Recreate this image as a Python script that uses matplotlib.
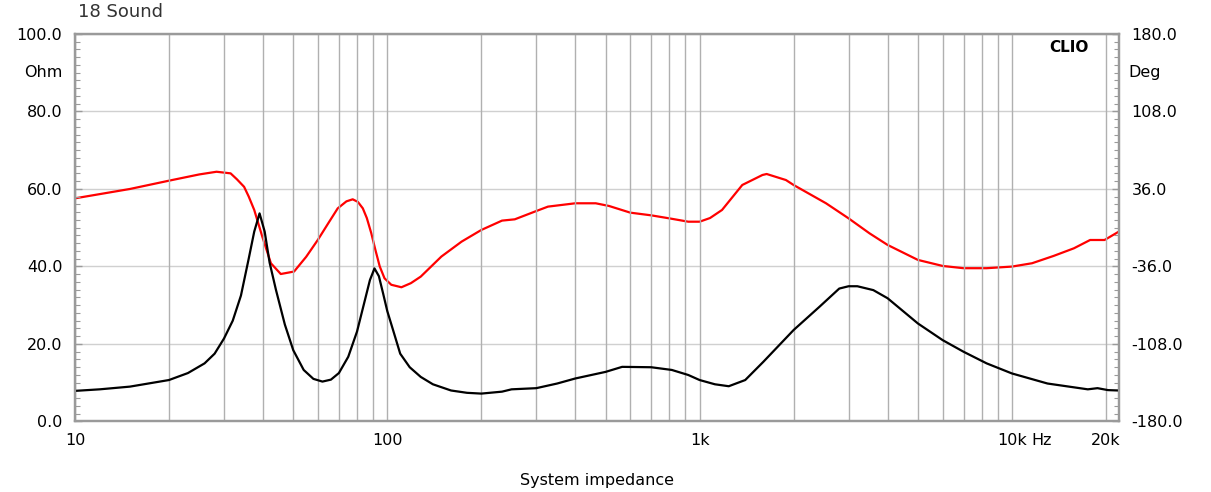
import matplotlib
matplotlib.use('Agg')
import matplotlib.pyplot as plt
from matplotlib.ticker import FixedLocator, MultipleLocator, NullFormatter, LogLocator
import numpy as np

plt.rcParams['font.family'] = ['DejaVu Sans']

# impedance magnitude (black, left axis)
zFreq = [10, 12, 15, 20, 23, 26, 28, 30, 32, 34, 36, 37.5, 39, 40.5, 42, 44, 47, 50, 54, 58,
         62, 66, 70, 75, 80, 84, 88, 91, 94, 97, 100, 104, 110, 118, 128, 140, 160, 180, 200,
         233, 250, 300, 350, 400, 500, 565, 700, 815, 920, 1000, 1120, 1240, 1400, 1600, 2000,
         2420, 2800, 3000, 3200, 3600, 4000, 5000, 6000, 7000, 8300, 10000, 13000, 17500,
         18800, 20300, 22000]
zOhm = [7.9, 8.3, 9.0, 10.7, 12.5, 15.0, 17.5, 21.4, 26.0, 32.5, 42.0, 49.0, 53.7, 49.0, 41.0,
        34.0, 25.0, 18.4, 13.3, 11.0, 10.3, 10.8, 12.5, 16.7, 23.2, 30.0, 36.5, 39.5, 37.5,
        33.0, 28.5, 24.0, 17.5, 14.0, 11.5, 9.6, 8.0, 7.4, 7.2, 7.7, 8.3, 8.6, 9.8, 11.1, 12.8,
        14.1, 14.0, 13.3, 12.0, 10.7, 9.6, 9.1, 10.7, 15.4, 23.6, 29.6, 34.3, 34.9, 34.9, 33.9,
        31.8, 25.3, 21.0, 18.0, 15.0, 12.4, 9.8, 8.3, 8.6, 8.1, 8.0]

# impedance phase (red, right axis)
pFreq = [10, 15, 20, 25, 28.4, 31.5, 33, 34.8, 36, 37.5, 39.8, 42.4, 45.6, 50.3, 55, 59.9, 65,
         69.4, 74, 77.5, 80.5, 83.5, 86, 88.9, 91.5, 94.6, 98, 103, 111, 119, 128, 149, 173,
         200, 233, 256, 300, 327, 400, 465, 513, 600, 700, 800, 920, 1000, 1080, 1180, 1370,
         1590, 1640, 1890, 2000, 2540, 3000, 3500, 4000, 5000, 6000, 7000, 8300, 10000, 11600,
         13600, 15800, 17800, 19800, 22000]
pDeg = [27.3, 36.0, 43.7, 49.5, 52.0, 50.5, 45.0, 38.0, 29.0, 16.5, -8.3, -33.0, -43.0, -40.7,
        -27.0, -11.4, 5.0, 18.0, 24.5, 26.4, 24.0, 18.0, 9.0, -5.2, -20.0, -36.0, -47.0, -53.0,
        -55.3, -51.5, -45.4, -26.8, -12.9, -2.1, 6.6, 7.8, 15.5, 19.6, 22.7, 22.7, 20.2, 14.0,
        11.5, 8.7, 5.6, 5.6, 9.0, 16.5, 39.7, 49.0, 49.9, 44.3, 39.7, 22.7, 8.7, -5.2, -16.0,
        -29.9, -35.5, -37.6, -37.6, -36.1, -33.0, -26.2, -19.1, -11.4, -11.4, -3.6]

ohmTicks = [0, 20, 40, 60, 80, 100]
degTicks = [-180, -108, -36, 36, 108, 180]
freqTicks = [10, 100, 1000, 10000, 20000]
freqLabels = ['10', '100', '1k', '10k', '20k']

frameColor = '#9a9a9a'
gridColor = '#b0b0b0'

fig = plt.figure(figsize=(12.11, 4.92), dpi=100)
axZ = fig.add_axes([0.0619, 0.1433, 0.8620, 0.7877])
axP = axZ.twinx()

# phase axis sits underneath, impedance on top
axZ.set_zorder(2)
axZ.patch.set_visible(False)
axP.set_zorder(1)
axP.patch.set_visible(True)
axP.patch.set_facecolor('white')

axZ.set_xscale('log')
axZ.set_xlim(10, 22000)
axZ.set_ylim(0, 100)
axP.set_ylim(-180, 180)

axP.plot(pFreq, pDeg, color='#ff0000', lw=1.6, solid_joinstyle='round')
axZ.plot(zFreq, zOhm, color='black', lw=1.6, solid_joinstyle='round')

axP.set_yticks(degTicks)
axP.yaxis.set_minor_locator(MultipleLocator(7.2))
axP.set_yticklabels(['%.1f' % d for d in degTicks])
axP.grid(axis='y', which='major', color='#d0d0d0', lw=1.0)

axZ.set_yticks(ohmTicks)
axZ.yaxis.set_minor_locator(MultipleLocator(2))
axZ.set_yticklabels(['%.1f' % o for o in ohmTicks])

axZ.xaxis.set_major_locator(FixedLocator(freqTicks))
axZ.xaxis.set_major_formatter(plt.FixedFormatter(freqLabels))
axZ.xaxis.set_minor_locator(LogLocator(base=10, subs=np.arange(2, 10)))
axZ.xaxis.set_minor_formatter(NullFormatter())
axZ.set_axisbelow(True)
axZ.grid(axis='x', which='both', color=gridColor, lw=1.0)

for ax in (axZ, axP):
    for sp in ax.spines.values():
        sp.set_color(frameColor)
        sp.set_linewidth(1.6)
    ax.tick_params(axis='y', which='major', direction='in', length=5, width=1,
                   color=frameColor, labelsize=11.5, pad=9)
    ax.tick_params(axis='y', which='minor', direction='in', length=3.5, width=0.8,
                   color=frameColor)
    ax.tick_params(axis='x', which='both', length=0, labelsize=11.5, pad=8)

axZ.text(-0.012, 0.9, 'Ohm', transform=axZ.transAxes, ha='right', va='center', fontsize=11.5)
axP.text(1.009, 0.9, 'Deg', transform=axP.transAxes, ha='left', va='center', fontsize=11.5)
axZ.annotate('Hz', xy=(10000, 0), xycoords=axZ.get_xaxis_transform(),
             xytext=(14, -8), textcoords='offset points', ha='left', va='top', fontsize=11.5)
axZ.text(0.971, 0.985, 'CLIO', transform=axZ.transAxes, ha='right', va='top',
         fontsize=11, fontweight='bold')

axZ.set_xlabel('System impedance', fontsize=11.5, labelpad=18)
fig.text(0.064, 1 - 17 / 492, '18 Sound', ha='left', va='baseline', fontsize=13, color='#333333')

fig.savefig('out.png', dpi=100, facecolor='white')
